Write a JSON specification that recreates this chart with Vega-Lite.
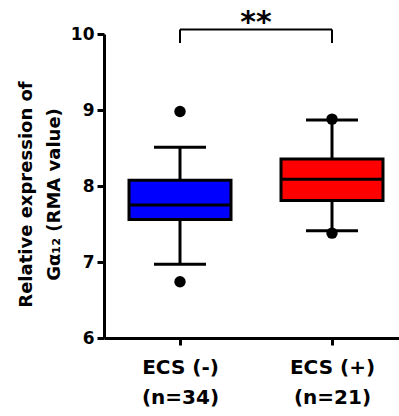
{
  "$schema": "https://vega.github.io/schema/vega-lite/v6.json",
  "width": 295,
  "height": 304,
  "autosize": "none",
  "padding": {"left": 104, "top": 34, "right": 0, "bottom": 78},
  "background": "white",
  "config": {
    "view": {"stroke": null},
    "font": "DejaVu Sans"
  },
  "datasets": {
    "boxes": [
      {"group": "ECS (-)", "lower": 6.97, "q1": 7.56, "median": 7.75, "q3": 8.075, "upper": 8.51},
      {"group": "ECS (+)", "lower": 7.41, "q1": 7.81, "median": 8.09, "q3": 8.355, "upper": 8.87}
    ],
    "outliers": [
      {"group": "ECS (-)", "value": 8.98},
      {"group": "ECS (-)", "value": 6.74},
      {"group": "ECS (+)", "value": 8.88},
      {"group": "ECS (+)", "value": 7.38}
    ],
    "bracket": [
      {"from": "ECS (-)", "to": "ECS (+)", "low": 9.88, "high": 10.06, "star_y": 10.14, "label": "**"}
    ]
  },
  "layer": [
    {
      "data": {"name": "boxes"},
      "mark": {"type": "rule", "color": "black", "strokeWidth": 3},
      "encoding": {
        "x": {
          "field": "group", "type": "nominal",
          "scale": {"type": "point", "domain": ["ECS (-)", "ECS (+)"], "range": [0, 304], "padding": 0.5},
          "axis": {
            "title": null,
            "labelAngle": 0,
            "domainColor": "black", "domainWidth": 3,
            "tickColor": "black", "tickWidth": 3, "tickSize": 7,
            "labelFont": "DejaVu Sans", "labelFontWeight": "bold", "labelFontSize": 20,
            "labelColor": "black", "labelPadding": 12, "labelLineHeight": 30,
            "labelExpr": "datum.value == 'ECS (-)' ? ['ECS (-)', '(n=34)'] : ['ECS (+)', '(n=21)']"
          }
        },
        "y": {
          "field": "lower", "type": "quantitative",
          "scale": {"domain": [6, 10], "nice": false, "zero": false},
          "axis": {
            "values": [6, 7, 8, 9, 10],
            "format": "d",
            "grid": false,
            "title": ["Relative expression of", "Gα₁₂ (RMA value)"],
            "titleFont": "DejaVu Sans", "titleFontWeight": "bold", "titleFontSize": 18,
            "titleColor": "black", "titleLineHeight": 28, "titlePadding": 7, "titleY": 160,
            "domainColor": "black", "domainWidth": 3,
            "tickColor": "black", "tickWidth": 3, "tickSize": 7,
            "labelFont": "DejaVu Sans", "labelFontWeight": "bold", "labelFontSize": 17,
            "labelColor": "black", "labelPadding": 3
          }
        },
        "y2": {"field": "upper"}
      }
    },
    {
      "data": {"name": "boxes"},
      "mark": {"type": "bar", "width": 102, "stroke": "black", "strokeWidth": 3},
      "encoding": {
        "x": {"field": "group", "type": "nominal"},
        "y": {"field": "q1", "type": "quantitative"},
        "y2": {"field": "q3"},
        "fill": {
          "field": "group", "type": "nominal",
          "scale": {"domain": ["ECS (-)", "ECS (+)"], "range": ["#0000FF", "#FF0000"]},
          "legend": null
        }
      }
    },
    {
      "data": {"name": "boxes"},
      "mark": {"type": "tick", "color": "black", "size": 102, "thickness": 3, "opacity": 1},
      "encoding": {
        "x": {"field": "group", "type": "nominal"},
        "y": {"field": "median", "type": "quantitative"}
      }
    },
    {
      "data": {"name": "boxes"},
      "mark": {"type": "tick", "color": "black", "size": 52, "thickness": 3, "opacity": 1},
      "encoding": {
        "x": {"field": "group", "type": "nominal"},
        "y": {"field": "lower", "type": "quantitative"}
      }
    },
    {
      "data": {"name": "boxes"},
      "mark": {"type": "tick", "color": "black", "size": 52, "thickness": 3, "opacity": 1},
      "encoding": {
        "x": {"field": "group", "type": "nominal"},
        "y": {"field": "upper", "type": "quantitative"}
      }
    },
    {
      "data": {"name": "outliers"},
      "mark": {"type": "circle", "color": "black", "size": 130, "opacity": 1},
      "encoding": {
        "x": {"field": "group", "type": "nominal"},
        "y": {"field": "value", "type": "quantitative"}
      }
    },
    {
      "data": {"name": "bracket"},
      "mark": {"type": "rule", "color": "black", "strokeWidth": 2},
      "encoding": {
        "x": {"field": "from", "type": "nominal"},
        "y": {"field": "low", "type": "quantitative"},
        "y2": {"field": "high"}
      }
    },
    {
      "data": {"name": "bracket"},
      "mark": {"type": "rule", "color": "black", "strokeWidth": 2},
      "encoding": {
        "x": {"field": "to", "type": "nominal"},
        "y": {"field": "low", "type": "quantitative"},
        "y2": {"field": "high"}
      }
    },
    {
      "data": {"name": "bracket"},
      "mark": {"type": "rule", "color": "black", "strokeWidth": 2},
      "encoding": {
        "x": {"field": "from", "type": "nominal"},
        "x2": {"field": "to"},
        "y": {"field": "high", "type": "quantitative"}
      }
    },
    {
      "data": {"name": "bracket"},
      "mark": {"type": "text", "dx": 76, "fontSize": 30, "fontWeight": "bold", "font": "DejaVu Sans", "color": "black", "baseline": "middle", "align": "center"},
      "encoding": {
        "x": {"field": "from", "type": "nominal"},
        "y": {"field": "star_y", "type": "quantitative"},
        "text": {"field": "label"}
      }
    }
  ]
}
